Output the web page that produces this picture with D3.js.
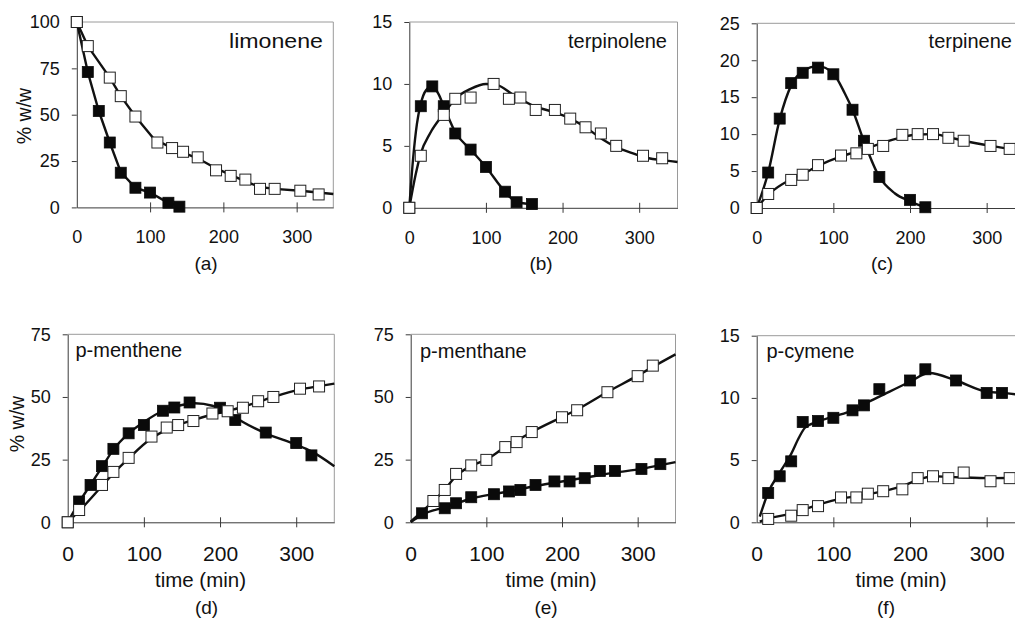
<!DOCTYPE html>
<html><head><meta charset="utf-8">
<script src="https://cdn.jsdelivr.net/npm/d3@7/dist/d3.min.js"></script>
<style>
body{margin:0;background:#fff}
svg{display:block;background:#fff}
text{font-family:Arial,"Liberation Sans",Helvetica,sans-serif;fill:#111}
</style>
</head><body>
<svg id="chart" width="1015" height="621"></svg>
<script>
// ---------- DATA ----------
const xTicks = [0, 100, 200, 300];
const panelTitles = ["limonene", "terpinolene", "terpinene", "p-menthene", "p-menthane", "p-cymene"];
const panelLetters = ["(a)", "(b)", "(c)", "(d)", "(e)", "(f)"];
const yMaxes = [100, 15, 25, 75, 75, 15];
const yTickSets = [[0,25,50,75,100],[0,5,10,15],[0,5,10,15,20,25],[0,25,50,75],[0,25,50,75],[0,5,10,15]];
const yTitle = "% w/w";
const xTitle = "time (min)";

// (a) limonene
const aFillT = [0,15,30,45,60,80,100,125,140];
const aFillV = [100,73,52,35,18.7,10.6,8,2.5,0.4];
const aOpenT = [0,15,45,60,80,110,130,145,165,190,210,230,250,270,305,330];
const aOpenV = [100,87,70,60,49,35,32,30,27,20,17,15,10,10,9,7];
const aFillFitT = [0,15,30,45,60,80,100,120,140];
const aFillFitV = [100,73,52,35,19,10.6,8,3.5,0.4];
const aOpenFitT = [0,15,45,60,80,105,130,145,165,190,210,230,250,270,305,350];
const aOpenFitV = [100,87,70,60,49,37,32,29.5,26.5,21,17.5,14,11,10,9,7.2];

// (b) terpinolene
const bFillT = [0,15,30,45,60,80,100,125,140,160];
const bFillV = [0,8.2,9.8,8.2,6.0,4.7,3.3,1.3,0.45,0.3];
const bOpenT = [0,15,45,60,80,110,130,145,165,190,210,230,250,270,305,330];
const bOpenV = [0,4.2,7.5,8.8,8.9,10,8.8,8.9,7.9,7.9,7.2,6.5,6.0,5.0,4.2,4.0];
const bFillFitT = [0,5,10,15,22,30,38,45,60,80,100,125,140,160];
const bFillFitV = [0,4,6.8,8.4,9.5,9.8,9.2,8.2,6.1,4.7,3.3,1.3,0.45,0.3];
const bOpenFitT = [0,8,15,27,45,60,80,100,115,136,163,190,210,230,248,270,292,305,330,350];
const bOpenFitV = [0,2.6,4.4,6,7.6,8.8,9.6,10,9.9,9.1,8.2,7.7,7.2,6.5,5.7,4.9,4.4,4.1,3.85,3.7];

// (c) terpinene
const cFillT = [0,15,30,45,60,80,100,125,140,160,200,220];
const cFillV = [0,4.8,12.1,16.9,18.3,19,18.1,13.3,9.1,4.2,1.1,0.1];
const cOpenT = [0,15,45,60,80,110,130,145,165,190,210,230,250,270,305,330];
const cOpenV = [0,1.9,3.8,4.5,5.8,7.1,7.4,8.0,8.4,9.9,10,10,9.5,9.1,8.4,8.0];
const cFillFitT = [0,15,30,45,60,80,100,115,125,140,160,180,200,220];
const cFillFitV = [0,4.8,12,16.6,18.5,19.2,18.2,15.5,13.3,9,4.2,2,0.9,0.1];
const cOpenFitT = [0,15,45,60,80,110,130,150,170,190,210,230,250,270,305,330,350];
const cOpenFitV = [0,1.8,3.9,4.6,5.7,7.0,7.6,8.3,9.0,9.6,9.95,10,9.6,9.1,8.4,8.0,7.7];

// (d) p-menthene
const dFillT = [0,15,30,45,60,80,100,125,140,160,200,220,260,300,320];
const dFillV = [0,8.3,14.9,22.4,29.3,35.5,38.8,44.5,45.8,47.8,45.7,40.8,35.8,31.6,26.7];
const dOpenT = [0,15,45,60,80,110,130,145,165,190,210,230,250,270,305,330];
const dOpenV = [0,4.9,14.9,20.1,25.7,34.2,37.8,38.8,40.4,43.4,44.3,45.7,48.3,50,53.3,54.2];
const dFillFitT = [0,15,30,45,60,80,100,125,150,167,190,210,230,260,300,320,350];
const dFillFitV = [0,8,15,22,29,35.5,40,44.5,46.8,47.5,46.5,44,40,35.5,31,28.3,22.4];
const dOpenFitT = [0,15,45,60,80,110,130,165,190,210,230,250,270,305,330,350];
const dOpenFitV = [0,4.5,14.5,19.5,25.5,33.5,37,40.8,43,44.5,46,48,50,53,54.3,55.3];

// (e) p-menthane
const eFillT = [15,45,60,80,110,130,145,165,190,210,230,250,270,305,330];
const eFillV = [3.6,5.6,7.6,10,11.2,12.3,12.9,14.9,16.3,16.3,17.6,20.5,20.5,21.3,23.2];
const eOpenT = [30,45,60,80,100,125,140,160,200,220,260,300,320];
const eOpenV = [8.5,12.9,19.3,22.7,24.9,30,32,36,41.9,44.7,51.9,58.3,62.5];
const eFillFitT = [0,15,45,60,80,110,130,165,190,230,270,305,330,350];
const eFillFitV = [0,3,6,7.5,9.5,11.3,12.3,14.5,15.8,17.8,19.8,21.3,22.8,24];
const eOpenFitT = [0,30,45,60,80,100,125,140,160,200,220,260,300,320,350];
const eOpenFitV = [0.3,8.5,13,18.5,22.5,25,30,32.5,36,42,45,52,58.5,62,67];

// (f) p-cymene
const fFillT = [15,30,45,60,80,100,125,140,160,200,220,260,300,320];
const fFillV = [2.36,3.7,4.9,8.06,8.14,8.4,9.0,9.4,10.7,11.4,12.3,11.4,10.4,10.4];
const fOpenT = [15,45,60,80,110,130,145,165,190,210,230,250,270,305,330];
const fOpenV = [0.27,0.53,0.98,1.3,2.0,2.0,2.3,2.5,2.65,3.55,3.7,3.55,4.0,3.3,3.55];
const fFillFitT = [4,15,30,45,55,63,80,100,125,140,160,200,225,260,300,320,350];
const fFillFitV = [0.45,2.4,4,5.5,6.8,7.6,8.1,8.5,9.0,9.5,10.1,11.3,12.0,11.4,10.5,10.4,10.2];
const fOpenFitT = [4,15,45,60,80,110,130,165,190,210,230,250,270,305,350];
const fOpenFitV = [0.05,0.3,0.7,1.0,1.4,1.9,2.1,2.5,2.9,3.4,3.7,3.65,3.6,3.55,3.6];

// ---------- LAYOUT ----------
const zip = (t, v) => t.map((d, i) => [d, v[i]]);
const series = [
  {fill: zip(aFillT,aFillV), open: zip(aOpenT,aOpenV), fillFit: zip(aFillFitT,aFillFitV), openFit: zip(aOpenFitT,aOpenFitV), curve: d3.curveLinear},
  {fill: zip(bFillT,bFillV), open: zip(bOpenT,bOpenV), fillFit: zip(bFillFitT,bFillFitV), openFit: zip(bOpenFitT,bOpenFitV), curve: d3.curveMonotoneX},
  {fill: zip(cFillT,cFillV), open: zip(cOpenT,cOpenV), fillFit: zip(cFillFitT,cFillFitV), openFit: zip(cOpenFitT,cOpenFitV), curve: d3.curveMonotoneX},
  {fill: zip(dFillT,dFillV), open: zip(dOpenT,dOpenV), fillFit: zip(dFillFitT,dFillFitV), openFit: zip(dOpenFitT,dOpenFitV), curve: d3.curveMonotoneX},
  {fill: zip(eFillT,eFillV), open: zip(eOpenT,eOpenV), fillFit: zip(eFillFitT,eFillFitV), openFit: zip(eOpenFitT,eOpenFitV), curve: d3.curveMonotoneX},
  {fill: zip(fFillT,fFillV), open: zip(fOpenT,fOpenV), fillFit: zip(fFillFitT,fFillFitV), openFit: zip(fOpenFitT,fOpenFitV), curve: d3.curveMonotoneX}
];

const layout = [
  {x0:76.8, x1:333.3, yTop:22,    yBot:207.4, row:0, title:{x:323, y:48, anchor:"end", len:94, fs:21}, letterX:206, yTitle:{x:24, y:116}},
  {x0:409.3, x1:677.5, yTop:22,   yBot:207.8, row:0, title:{x:667, y:47.5, anchor:"end"},        letterX:541},
  {x0:756.7, x1:1025, yTop:23.3,  yBot:208,   row:0, title:{x:1012, y:47.5, anchor:"end"},       letterX:882},
  {x0:67.7, x1:334.3, yTop:334.3, yBot:522.3, row:1, title:{x:75.5, y:357, anchor:"start"},      letterX:206.5, yTitle:{x:17, y:424}, timeX:200.5},
  {x0:410.7, x1:675.5, yTop:334.3,yBot:522.3, row:1, title:{x:420, y:357.5, anchor:"start"},     letterX:546, timeX:551},
  {x0:756.7, x1:1025, yTop:335.7, yBot:522.3, row:1, title:{x:766.5, y:357.5, anchor:"start"},   letterX:886, timeX:901}
];

const svg = d3.select("#chart");
const axisColor = "#3a3a3a", frameColor = "#9a9a9a";

layout.forEach((L, i) => {
  const S = series[i];
  const x = d3.scaleLinear().domain([0, 350]).range([L.x0, L.x1]);
  const y = d3.scaleLinear().domain([0, yMaxes[i]]).range([L.yBot, L.yTop]);
  const g = svg.append("g");

  g.append("path")
    .attr("d", `M${L.x0},${L.yTop}H${x(350)}V${L.yBot}`)
    .attr("fill", "none").attr("stroke", frameColor).attr("stroke-width", 1);

  const yAx = g.append("g").attr("transform", `translate(${L.x0},0)`)
    .call(d3.axisLeft(y).tickValues(yTickSets[i]).tickFormat(d3.format("d")).tickSize(5).tickSizeOuter(0).tickPadding(12));
  yAx.select(".domain").attr("stroke", axisColor);
  yAx.selectAll(".tick line").attr("stroke", axisColor);
  yAx.selectAll(".tick text").attr("font-size", 18).attr("fill", "#111");

  const xAx = g.append("g").attr("transform", `translate(0,${L.yBot})`)
    .call(d3.axisBottom(x).tickValues(xTicks).tickFormat(d3.format("d")).tickSize(5).tickSizeOuter(0));
  xAx.select(".domain").attr("stroke", axisColor);
  xAx.selectAll(".tick line").attr("stroke", axisColor).attr("y1", -5).attr("y2", 5);
  const xfs = L.row === 0 ? 18 : 21;
  const xly = L.row === 0 ? 29.5 : 31;
  xAx.selectAll(".tick text").attr("font-size", xfs).attr("fill", "#111")
    .attr("y", xly).attr("dy", "0.35em");
  xAx.selectAll(".tick").filter(d => d === 0).select("line").remove();

  const line = d3.line().x(d => x(d[0])).y(d => y(d[1])).curve(S.curve);
  g.append("path").datum(S.fillFit).attr("d", line)
    .attr("fill", "none").attr("stroke", "#111").attr("stroke-width", 2.4).attr("stroke-linejoin", "round");
  g.append("path").datum(S.openFit).attr("d", line)
    .attr("fill", "none").attr("stroke", "#111").attr("stroke-width", 2.4).attr("stroke-linejoin", "round");

  const sz = 11;
  g.append("g").selectAll("rect").data(S.fill).join("rect")
    .attr("x", d => x(d[0]) - sz/2).attr("y", d => y(d[1]) - sz/2)
    .attr("width", sz).attr("height", sz).attr("fill", "#0a0a0a").attr("stroke", "#0a0a0a").attr("stroke-width", 0.8);
  g.append("g").selectAll("rect").data(S.open).join("rect")
    .attr("x", d => x(d[0]) - sz/2).attr("y", d => y(d[1]) - sz/2)
    .attr("width", sz).attr("height", sz).attr("fill", "#fff").attr("stroke", "#222").attr("stroke-width", 1);

  const t = g.append("text").attr("x", L.title.x).attr("y", L.title.y)
    .attr("text-anchor", L.title.anchor).attr("font-size", L.title.fs || 20).text(panelTitles[i]);
  if (L.title.len) t.attr("textLength", L.title.len).attr("lengthAdjust", "spacingAndGlyphs");

  const letterY = L.row === 0 ? 263 : 607.5;
  svg.append("text").attr("x", L.letterX).attr("y", letterY).attr("dy", "0.35em")
    .attr("text-anchor", "middle").attr("font-size", 19).text(panelLetters[i]);

  if (L.timeX) {
    svg.append("text").attr("x", L.timeX).attr("y", 580).attr("dy", "0.35em")
      .attr("text-anchor", "middle").attr("font-size", 20.5).text(xTitle);
  }
  if (L.yTitle) {
    svg.append("text").attr("transform", `translate(${L.yTitle.x},${L.yTitle.y}) rotate(-90)`)
      .attr("dy", "0.35em").attr("text-anchor", "middle").attr("font-size", 19.5).text(yTitle);
  }
});
</script>
</body></html>
